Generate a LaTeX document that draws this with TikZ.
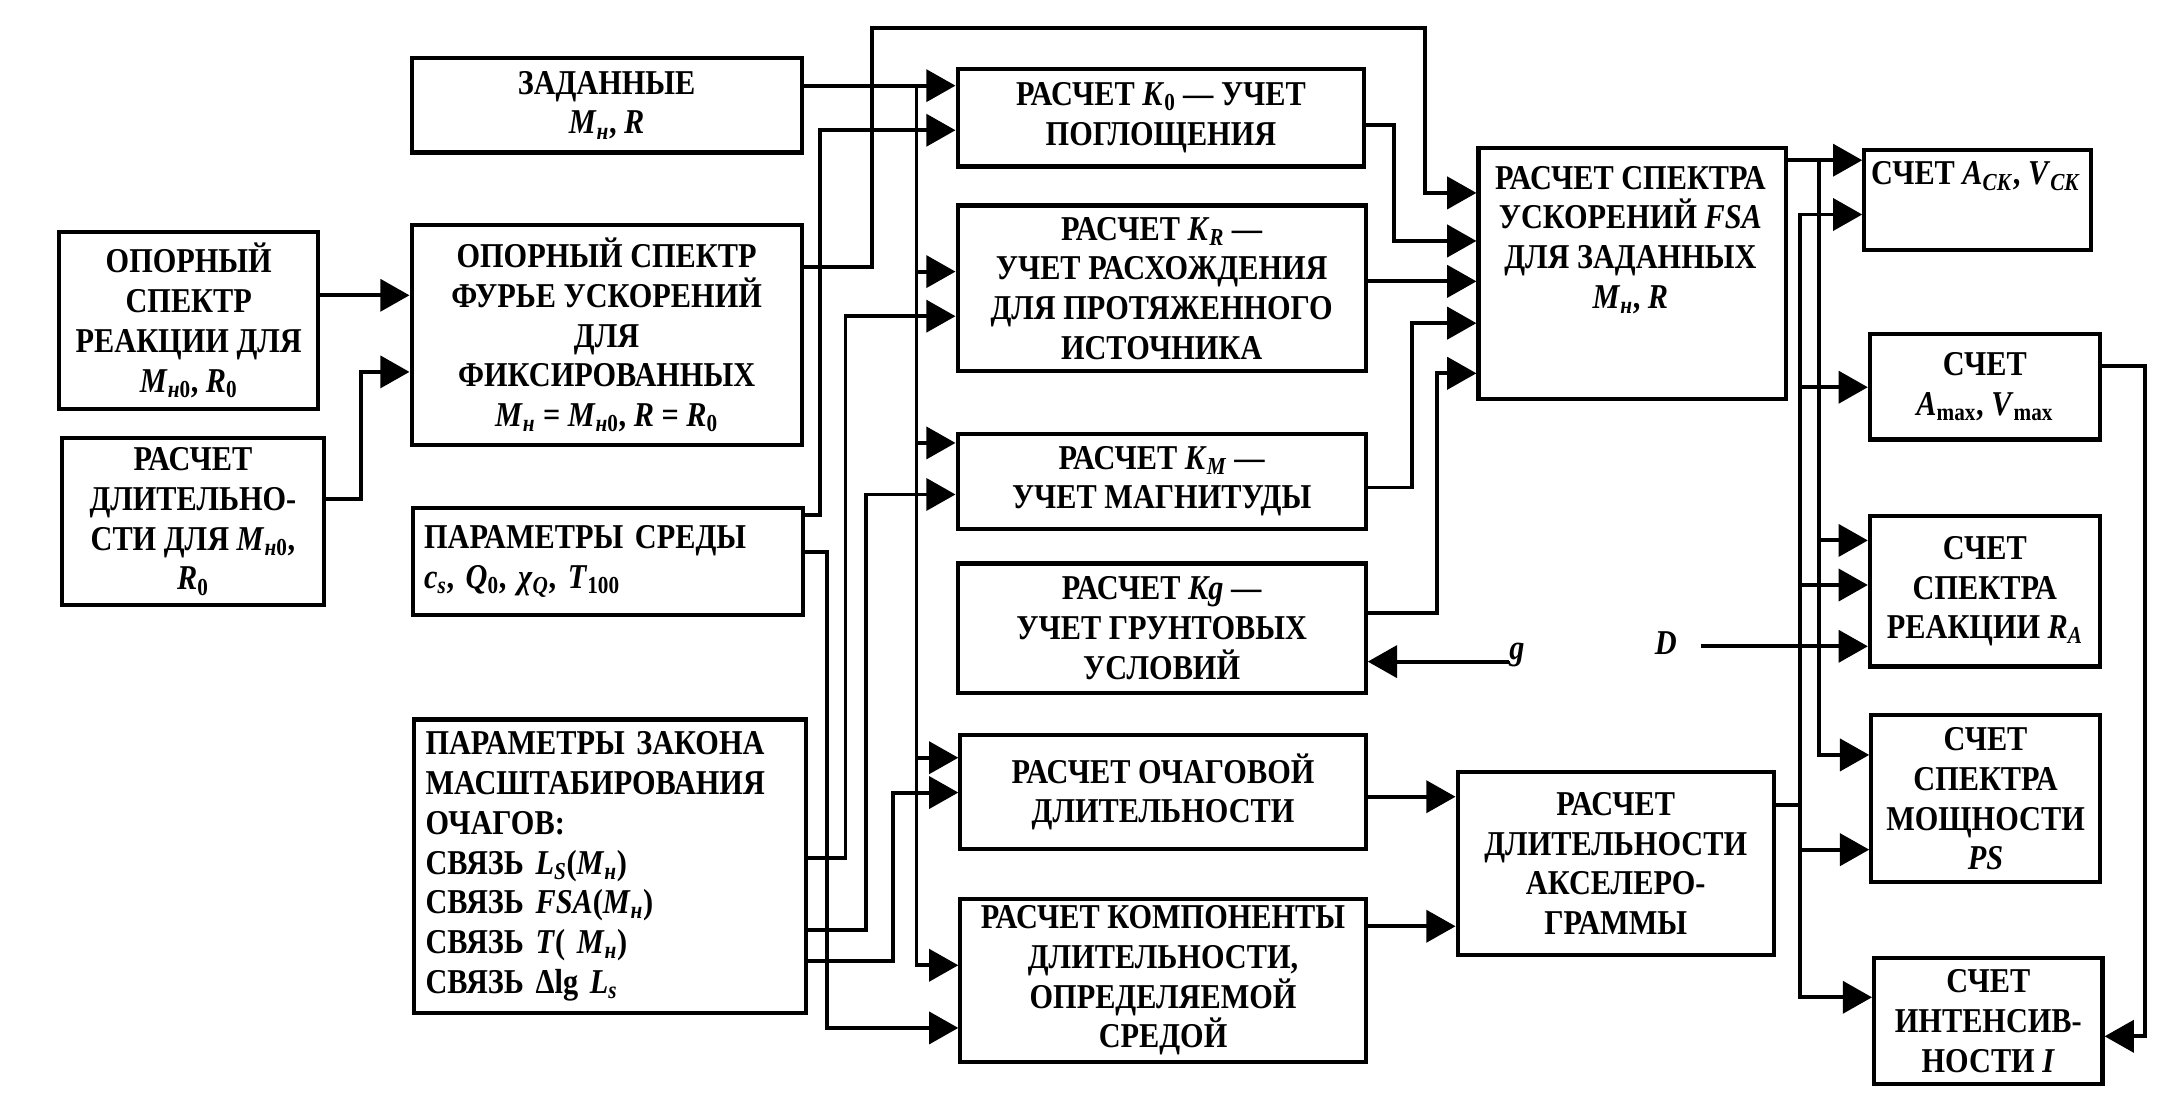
\documentclass[tikz,border=0pt]{standalone}
\usepackage{fontspec}
\setmainfont{Liberation Serif}[FakeStretch=0.87]
\usetikzlibrary{arrows.meta}

\newlength{\du}
\setlength{\du}{1pt}
\newcommand{\bxfont}{\fontsize{25}{28.5}\selectfont\bfseries}
\newcommand{\Mn}{\textit{M}\textsubscript{\textit{н}}}
\newcommand{\Mnz}{\textit{M}\textsubscript{\textit{н}0}}
\newcommand{\Rz}{\textit{R}\textsubscript{0}}
\tikzset{
  blk/.style={draw, line width=3\du, inner sep=4\du, align=center, anchor=north west, font=\bxfont},
  txt/.style={inner sep=0pt, align=center, font=\bxfont},
  conn/.style={line width=2.8\du},
  arr/.style={conn, -{Triangle[length=21pt,width=23pt]}},
}

\begin{document}
\begin{tikzpicture}
\pgftransformxscale{1.000000}
\pgftransformyscale{-1.000000}
\pgfsetmiterjoin
\useasboundingbox (0\du,0\du) rectangle (1568\du,793\du);
% left column
\node[blk, minimum width=186\du, minimum height=127\du] (refresp) at (41\du,165\du) {ОПОРНЫЙ\\СПЕКТР\\РЕАКЦИИ ДЛЯ\\\Mnz, \Rz};
\node[blk, minimum width=188\du, minimum height=120\du] (durleft) at (43\du,313\du) {РАСЧЕТ\\ДЛИТЕЛЬНО-\\СТИ ДЛЯ \Mnz,\\\Rz};
% input data
\node[blk, minimum width=280\du, minimum height=68\du] (zad) at (294\du,40\du) {ЗАДАННЫЕ\\\Mn, \textit{R}};
\node[blk, minimum width=280\du, minimum height=158\du] (fourier) at (294\du,160\du) {ОПОРНЫЙ СПЕКТР\\ФУРЬЕ УСКОРЕНИЙ\\ДЛЯ\\ФИКСИРОВАННЫХ\\\Mn{} = \Mnz, \textit{R} = \Rz};
\node[blk, align=left, text width=264\du, inner xsep=8\du, minimum height=77\du] (sreda) at (295\du,363\du) {ПАРАМЕТРЫ СРЕДЫ\\\textit{c}\textsubscript{\textit{s}}, \textit{Q}\textsubscript{0}, \textit{χ}\textsubscript{\textit{Q}}, \textit{T}\textsubscript{100}};
\node[blk, align=left, text width=265\du, inner xsep=8\du, minimum height=211\du] (zakon) at (296\du,515\du) {ПАРАМЕТРЫ ЗАКОНА\\МАСШТАБИРОВАНИЯ\\ОЧАГОВ:\\СВЯЗЬ \textit{L}\textsubscript{\textit{S}}(\Mn)\\СВЯЗЬ \textit{FSA}(\Mn)\\СВЯЗЬ \textit{T}( \Mn)\\СВЯЗЬ Δlg \textit{L}\textsubscript{\textit{s}}};
% correction factors
\node[blk, minimum width=292\du, minimum height=70\du] (kzero) at (686\du,48\du) {РАСЧЕТ \textit{K}\textsubscript{0} — УЧЕТ\\ПОГЛОЩЕНИЯ};
\node[blk, minimum width=293\du, minimum height=119\du] (kr) at (686\du,146\du) {РАСЧЕТ \textit{K}\textsubscript{\textit{R}} —\\УЧЕТ РАСХОЖДЕНИЯ\\ДЛЯ ПРОТЯЖЕННОГО\\ИСТОЧНИКА};
\node[blk, minimum width=293\du, minimum height=68\du] (km) at (686\du,310\du) {РАСЧЕТ \textit{K}\textsubscript{\textit{M}} —\\УЧЕТ МАГНИТУДЫ};
\node[blk, minimum width=293\du, minimum height=93\du] (kg) at (686\du,403\du) {РАСЧЕТ \textit{Kg} —\\УЧЕТ ГРУНТОВЫХ\\УСЛОВИЙ};
\node[blk, minimum width=291\du, minimum height=82\du] (ochag) at (688\du,526\du) {РАСЧЕТ ОЧАГОВОЙ\\ДЛИТЕЛЬНОСТИ};
\node[blk, minimum width=291\du, minimum height=117\du] (komp) at (688\du,644\du) {РАСЧЕТ КОМПОНЕНТЫ\\ДЛИТЕЛЬНОСТИ,\\ОПРЕДЕЛЯЕМОЙ\\СРЕДОЙ};
% spectrum and duration
\node[blk, minimum width=221\du, minimum height=180\du] (fsa) at (1060\du,105\du) {};
\node[txt, anchor=north] (fsatxt) at (1170.5\du,119\du) {РАСЧЕТ СПЕКТРА\\УСКОРЕНИЙ \textit{FSA}\\ДЛЯ ЗАДАННЫХ\\\Mn, \textit{R}};
\node[blk, minimum width=227\du, minimum height=131\du] (aks) at (1045\du,553\du) {РАСЧЕТ\\ДЛИТЕЛЬНОСТИ\\АКСЕЛЕРО-\\ГРАММЫ};
% outputs
\node[blk, minimum width=163\du, minimum height=72\du] (ack) at (1337\du,106\du) {};
\node[txt, anchor=north] (acktxt) at (1418.5\du,116\du) {СЧЕТ \textit{A}\textsubscript{\textit{CK}}, \textit{V}\textsubscript{\textit{CK}}};
\node[blk, minimum width=165\du, minimum height=76\du] (amax) at (1341\du,238\du) {СЧЕТ\\\textit{A}\textsubscript{max}, \textit{V}\textsubscript{max}};
\node[blk, minimum width=165\du, minimum height=108\du] (ra) at (1341\du,369\du) {СЧЕТ\\СПЕКТРА\\РЕАКЦИИ \textit{R}\textsubscript{\textit{A}}};
\node[blk, minimum width=164\du, minimum height=120\du] (ps) at (1342\du,512\du) {СЧЕТ\\СПЕКТРА\\МОЩНОСТИ\\\textit{PS}};
\node[blk, minimum width=164\du, minimum height=91\du] (inten) at (1344\du,686\du) {СЧЕТ\\ИНТЕНСИВ-\\НОСТИ \textit{I}};
% free inputs
\node[txt, font=\bxfont\itshape] (gin) at (1089\du,470\du) {g};
\node[txt, font=\bxfont\itshape, inner xsep=17\du] (dpar) at (1196\du,462\du) {D};

% connectors, left part
\draw[arr] (refresp.east |- 0,212pt) -- (fourier.west |- 0,212pt);
\draw[arr] (durleft.east |- 0,358pt) -| (259\du,267\du) -- (fourier.west |- 0,267pt);
\draw[arr] (zad.east |- 0,61.5pt) -- (kzero.west |- 0,61.5pt);
\coordinate (zbus) at (658\du,61.5\du);
\draw[arr] (zbus) |- (kr.west |- 0,195pt);
\draw[arr] (zbus) |- (km.west |- 0,318pt);
\draw[arr] (zbus) |- (ochag.west |- 0,544pt);
\draw[arr] (zbus) |- (komp.west |- 0,693pt);
\draw[arr] (fourier.east |- 0,192pt) -| (626\du,20\du) -| (1023\du,138.5\du) -- (fsa.west |- 0,138.5pt);
\draw[arr] (sreda.east |- 0,370pt) -| (589\du,93.5\du) -- (kzero.west |- 0,93.5pt);
\draw[arr] (sreda.east |- 0,396pt) -| (594\du,738\du) -- (komp.west |- 0,738pt);
\draw[arr] (zakon.east |- 0,616pt) -| (607\du,227\du) -- (kr.west |- 0,227pt);
\draw[arr] (zakon.east |- 0,668pt) -| (622\du,355\du) -- (km.west |- 0,355pt);
\draw[arr] (zakon.east |- 0,690pt) -| (641\du,569\du) -- (ochag.west |- 0,569pt);
% connectors, middle part
\draw[arr] (kzero.east |- 0,90pt) -| (1001\du,173\du) -- (fsa.west |- 0,173pt);
\draw[arr] (kr.east |- 0,202pt) -- (fsa.west |- 0,202pt);
\draw[arr] (km.east |- 0,350pt) -| (1014\du,232\du) -- (fsa.west |- 0,232pt);
\draw[arr] (kg.east |- 0,440pt) -| (1032\du,268\du) -- (fsa.west |- 0,268pt);
\draw[arr] (gin.west |- 0,475pt) -- (kg.east |- 0,475pt);
\draw[arr] (ochag.east |- 0,572pt) -- (aks.west |- 0,572pt);
\draw[arr] (komp.east |- 0,665pt) -- (aks.west |- 0,665pt);
% connectors, right part
\draw[arr] (fsa.east |- 0,115pt) -- (ack.west |- 0,115pt);
\coordinate (fbus) at (1306\du,115\du);
\draw[arr] (fbus) |- (ra.west |- 0,388pt);
\draw[arr] (fbus) |- (ps.west |- 0,542pt);
\coordinate (abus) at (1292\du,578\du);
\draw[conn] (aks.east |- 0,578pt) -- (abus);
\draw[arr] (abus) |- (ack.west |- 0,154pt);
\draw[arr] (abus) |- (amax.west |- 0,278pt);
\draw[arr] (abus) |- (ra.west |- 0,420pt);
\draw[arr] (abus) |- (ps.west |- 0,610pt);
\draw[arr] (abus) |- (inten.west |- 0,716pt);
\draw[arr] (dpar.east |- 0,464pt) -- (ra.west |- 0,464pt);
\draw[arr] (amax.east |- 0,263pt) -| (1540\du,744\du) -- (inten.east |- 0,744pt);
\end{tikzpicture}
\end{document}
